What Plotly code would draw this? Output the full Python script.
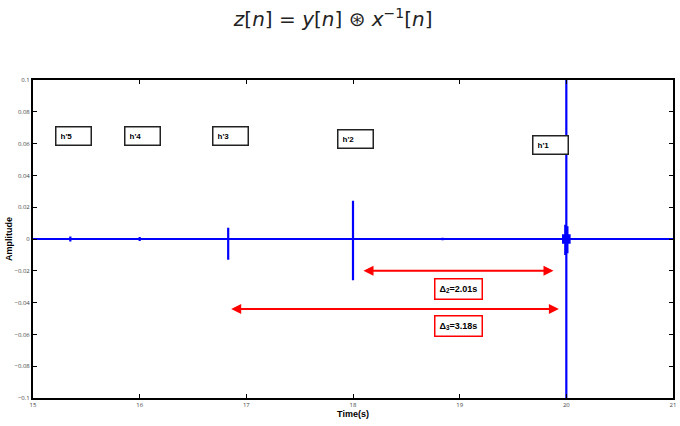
import plotly.graph_objects as go

# Data
spike_times = [15.35, 16.0, 16.83, 18.0, 18.84, 19.97, 19.99, 20.0, 20.01, 20.03]
spike_pos = [0.0015, 0.0012, 0.007, 0.024, 0.0008, 0.003, 0.009, 0.1, 0.008, 0.003]
spike_neg = [-0.0015, -0.0012, -0.013, -0.026, -0.0008, -0.003, -0.010, -0.1, -0.009, -0.003]
t_start, t_end = 15.0, 21.0

peak_labels = ["h'5", "h'4", "h'3", "h'2", "h'1"]
peak_label_x = [15.38, 16.03, 16.85, 18.02, 19.85]
peak_label_y = [0.065, 0.065, 0.065, 0.063, 0.059]

delta_labels = ["Δ<sub>2</sub>=2.01s", "Δ<sub>3</sub>=3.18s"]
delta_start = [18.07, 16.83]
delta_end = [19.88, 19.93]
delta_y = [-0.020, -0.044]
delta_label_x = [18.99, 18.99]
delta_label_y = [-0.0315, -0.055]

xs, ys = [t_start], [0.0]
for t, p, n in zip(spike_times, spike_pos, spike_neg):
    xs += [t, t, t, t]
    ys += [0.0, p, n, 0.0]
xs.append(t_end)
ys.append(0.0)

fig = go.Figure()
fig.add_trace(go.Scatter(x=xs, y=ys, mode="lines",
                         line=dict(color="#0000ff", width=2.2), hoverinfo="skip"))

for lab, x, y in zip(peak_labels, peak_label_x, peak_label_y):
    fig.add_annotation(x=x, y=y, text="<b>" + lab + "</b>", showarrow=False,
                       font=dict(size=8, color="black", family="Liberation Sans, Arial"),
                       bordercolor="#222", borderwidth=1.5, borderpad=4, bgcolor="white",
                       width=26, align="left")

for lab, x0, x1, y, lx, ly in zip(delta_labels, delta_start, delta_end, delta_y,
                                  delta_label_x, delta_label_y):
    fig.add_annotation(x=x1, y=y, ax=x0, ay=y, xref="x", yref="y", axref="x", ayref="y",
                       text=" ", showarrow=True, arrowhead=2, arrowside="end+start",
                       arrowsize=1, arrowwidth=2, arrowcolor="#ff0000")
    fig.add_annotation(x=lx, y=ly, text="<b>" + lab + "</b>", showarrow=False,
                       font=dict(size=9, color="black", family="Liberation Sans, Arial"),
                       bordercolor="#ff0000", borderwidth=1.5, borderpad=4, bgcolor="white")

fig.update_layout(
    width=680, height=426,
    margin=dict(l=33, r=4, t=80, b=28),
    paper_bgcolor="white", plot_bgcolor="white",
    showlegend=False,
    title=dict(text="<i>z</i>[<i>n</i>] = <i>y</i>[<i>n</i>] ⊛ <i>x</i><sup>−1</sup>[<i>n</i>]",
               x=0.49, xanchor="center", y=0.955, yanchor="middle",
               font=dict(size=20, family="DejaVu Sans", color="#222")),
)
fig.update_xaxes(range=[t_start, t_end], tickvals=[15, 16, 17, 18, 19, 20, 21],
                 ticks="inside", ticklen=4, tickcolor="black", showgrid=False,
                 zeroline=False, showline=True, linecolor="black", linewidth=2, mirror="ticks",
                 tickfont=dict(size=6, color="#444"),
                 title=dict(text="<b>Time(s)</b>", font=dict(size=9, color="black",
                            family="Liberation Sans, Arial"), standoff=2))
fig.update_yaxes(range=[-0.1, 0.1], tickvals=[-0.1, -0.08, -0.06, -0.04, -0.02, 0, 0.02, 0.04, 0.06, 0.08, 0.1],
                 ticktext=["−0.1", "−0.08", "−0.06", "−0.04", "−0.02", "0", "0.02", "0.04", "0.06", "0.08", "0.1"],
                 ticks="inside", ticklen=4, tickcolor="black", showgrid=False,
                 zeroline=False, showline=True, linecolor="black", linewidth=2, mirror="ticks",
                 tickfont=dict(size=6, color="#444"),
                 title=dict(text="<b>Amplitude</b>", font=dict(size=9, color="black",
                            family="Liberation Sans, Arial"), standoff=0))

fig.write_html("out.html")
